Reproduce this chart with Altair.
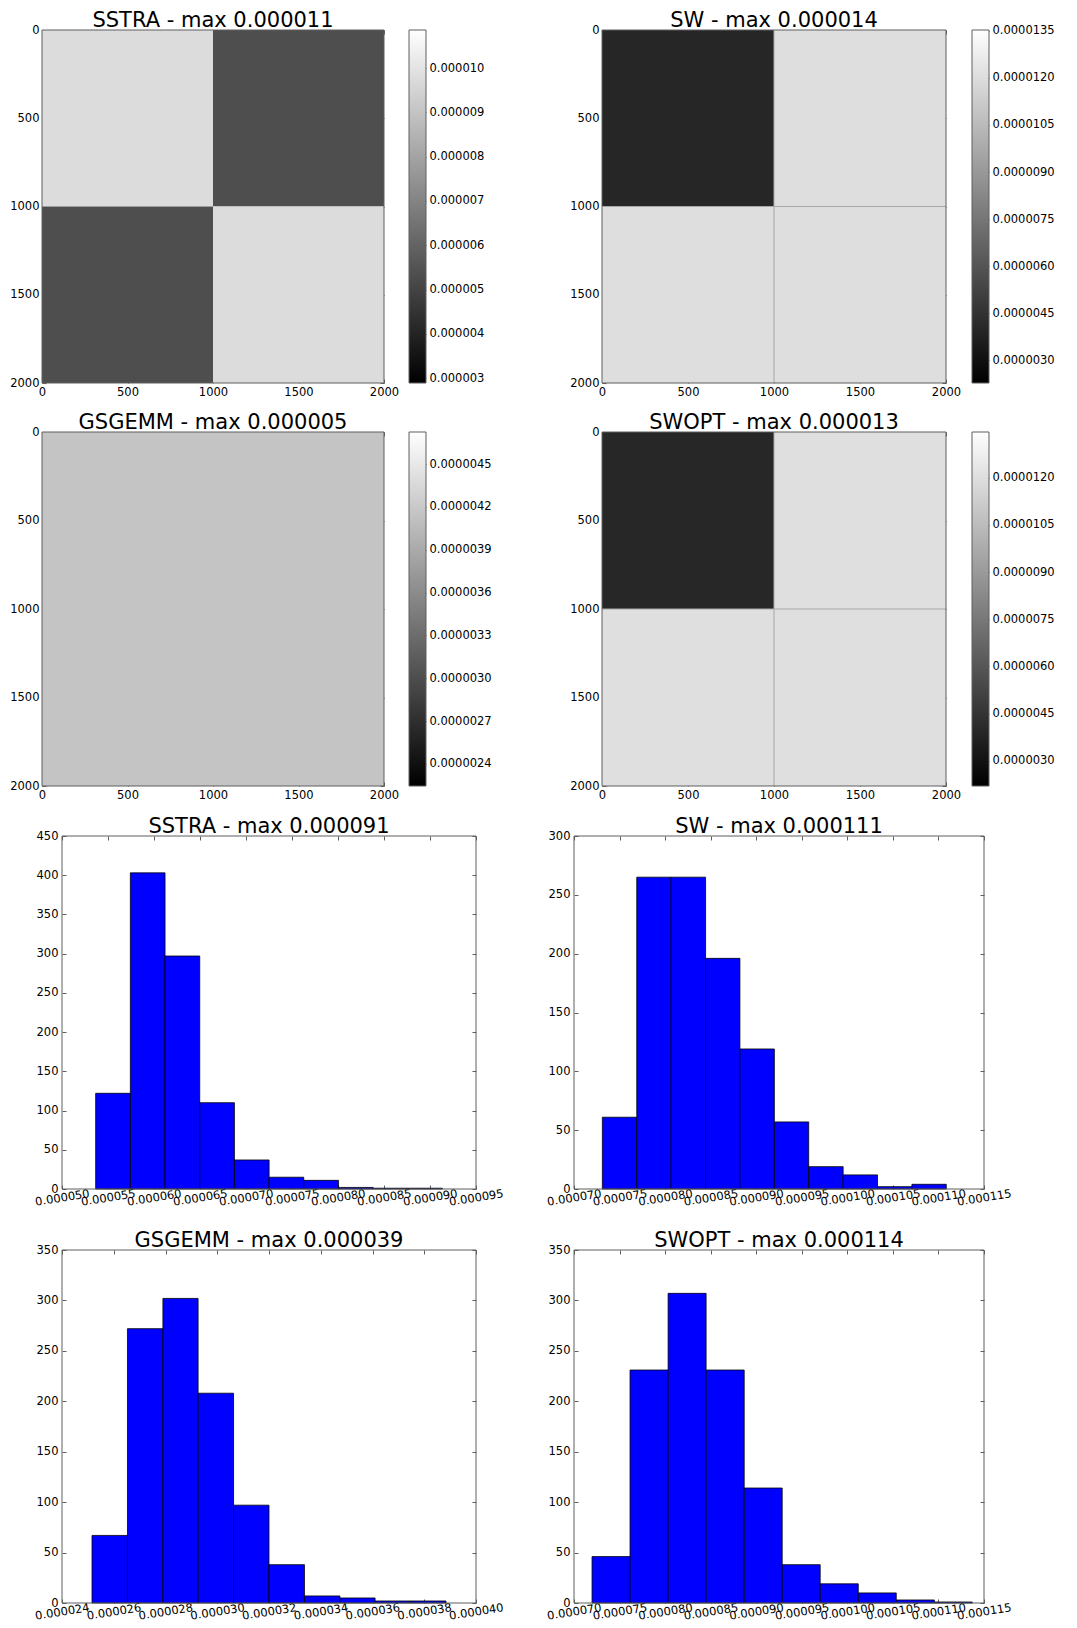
import altair as alt
import pandas as pd

FONT = "DejaVu Sans"
FRAME = "#5f5f5f"
BLUE = "#0000ff"

# ---------------- heat maps (values in units of 1e-6) ----------------
block_edges = [0, 1000, 2000]
heat_ticks = [0, 500, 1000, 1500, 2000]

sstra_blocks = [[9.77, 5.33], [5.33, 9.77]]          # rows top->bottom
sstra_cbar = [2.89, 10.86]
sstra_cbar_ticks = [3, 4, 5, 6, 7, 8, 9, 10]

sw_blocks = [[3.96, 12.07], [12.07, 12.07]]
sw_cbar = [2.27, 13.53]
sw_cbar_ticks = [3.0, 4.5, 6.0, 7.5, 9.0, 10.5, 12.0, 13.5]
sw_seam = 9.7

gsgemm_blocks = [[4.155, 4.155], [4.155, 4.155]]
gsgemm_cbar = [2.245, 4.725]
gsgemm_cbar_ticks = [2.4, 2.7, 3.0, 3.3, 3.6, 3.9, 4.2, 4.5]

swopt_blocks = [[3.9, 12.03], [12.03, 12.03]]
swopt_cbar = [2.2, 13.45]
swopt_cbar_ticks = [3.0, 4.5, 6.0, 7.5, 9.0, 10.5, 12.0]
swopt_seam = 9.6

seam_index = 1000
seam_half = 3

# ---------------- histograms (x in units of 1e-6) ----------------
sstra_edges = [53.66, 57.43, 61.20, 64.97, 68.74, 72.51, 76.28, 80.05, 83.82, 87.59, 91.36]
sstra_counts = [122, 403, 297, 110, 37, 15, 11, 2, 1, 1]
sstra_xticks = [50, 55, 60, 65, 70, 75, 80, 85, 90, 95]
sstra_yticks = [0, 50, 100, 150, 200, 250, 300, 350, 400, 450]

sw_edges = [73.11, 76.89, 80.66, 84.44, 88.21, 91.99, 95.76, 99.54, 103.31, 107.09, 110.86]
sw_counts = [61, 265, 265, 196, 119, 57, 19, 12, 2, 4]
sw_xticks = [70, 75, 80, 85, 90, 95, 100, 105, 110, 115]
sw_yticks = [0, 50, 100, 150, 200, 250, 300]

gsgemm_edges = [25.16, 26.53, 27.90, 29.26, 30.63, 32.00, 33.37, 34.74, 36.10, 37.47, 38.84]
gsgemm_counts = [67, 272, 302, 208, 97, 38, 7, 5, 2, 2]
gsgemm_xticks = [24, 26, 28, 30, 32, 34, 36, 38, 40]
gsgemm_yticks = [0, 50, 100, 150, 200, 250, 300, 350]

swopt_edges = [71.98, 76.15, 80.33, 84.50, 88.68, 92.85, 97.02, 101.20, 105.37, 109.55, 113.72]
swopt_counts = [46, 231, 307, 231, 114, 38, 19, 10, 3, 1]
swopt_xticks = [70, 75, 80, 85, 90, 95, 100, 105, 110, 115]
swopt_yticks = [0, 50, 100, 150, 200, 250, 300, 350]

# ---------------- layout (pixels, relative to the plotting origin) ----------------
W, H = 947, 1573
PAD = {"left": 42, "top": 30, "right": 88, "bottom": 25}
TITLE_GAP = 3
TICK = 4


def sc(domain, rng):
    return alt.Scale(domain=domain, range=rng, nice=False, zero=False)


def tick_axis(orient, offset, values):
    # inward-pointing matplotlib-style ticks, no labels
    return alt.Axis(orient=orient, offset=offset, values=values, labels=False,
                    ticks=True, tickSize=TICK, tickColor=FRAME, tickWidth=1,
                    domain=False, grid=False, title=None)


def heat_table(blocks, seam=None):
    rows = []
    for i, row in enumerate(blocks):
        for j, v in enumerate(row):
            rows.append(dict(x0=block_edges[j], x1=block_edges[j + 1],
                             y0=block_edges[i], y1=block_edges[i + 1], v=v))
    if seam is not None:
        rows.append(dict(x0=block_edges[0], x1=block_edges[-1],
                         y0=seam_index - seam_half, y1=seam_index + seam_half, v=seam))
        rows.append(dict(x0=seam_index - seam_half, x1=seam_index + seam_half,
                         y0=block_edges[0], y1=block_edges[-1], v=seam))
    return pd.DataFrame(rows)


def title_layer(text, center, xdom, xr, ytop):
    df = pd.DataFrame({"t": [text], "c": [center]})
    return alt.Chart(df).mark_text(font=FONT, fontSize=21, baseline="alphabetic",
                                   align="center", color="black").encode(
        x=alt.X("c:Q", scale=sc(xdom, xr), axis=None),
        y=alt.value(ytop - TITLE_GAP),
        text="t:N",
    )


def frame_layers(xdom, ydom, xr, yr, xticks, yticks):
    top, bottom = min(yr), max(yr)
    left, right = min(xr), max(xr)
    fdf = pd.DataFrame({"x0": [xdom[0]], "x1": [xdom[1]], "y0": [ydom[0]], "y1": [ydom[1]]})
    f1 = alt.Chart(fdf).mark_rect(fillOpacity=0, stroke=FRAME, strokeWidth=1).encode(
        x=alt.X("x0:Q", scale=sc(xdom, xr), axis=tick_axis("top", -bottom, xticks)),
        x2="x1:Q",
        y=alt.Y("y0:Q", scale=sc(ydom, yr), axis=tick_axis("right", left - W, yticks)),
        y2="y1:Q",
    )
    f2 = alt.Chart(fdf).mark_rect(fillOpacity=0, strokeOpacity=0).encode(
        x=alt.X("x0:Q", scale=sc(xdom, xr), axis=tick_axis("bottom", top - H, xticks)),
        x2="x1:Q",
        y=alt.Y("y0:Q", scale=sc(ydom, yr), axis=tick_axis("left", -right, yticks)),
        y2="y1:Q",
    )
    return [f1, f2]


def heat_panel(title, blocks, cbar, xr, yr, seam=None):
    dom = [block_edges[0], block_edges[-1]]
    cells = alt.Chart(heat_table(blocks, seam)).mark_rect().encode(
        x=alt.X("x0:Q", scale=sc(dom, xr),
                axis=alt.Axis(orient="bottom", offset=yr[1] - H, values=heat_ticks,
                              format="d", labelPadding=3, title=None)),
        x2="x1:Q",
        y=alt.Y("y0:Q", scale=sc(dom, yr),
                axis=alt.Axis(orient="left", offset=-xr[0], values=heat_ticks,
                              format="d", labelPadding=3, title=None)),
        y2="y1:Q",
        color=alt.Color("v:Q", scale=alt.Scale(domain=cbar, range=["black", "white"],
                                               interpolate="rgb"), legend=None),
    )
    return ([cells] + frame_layers(dom, dom, xr, yr, heat_ticks, heat_ticks)
            + [title_layer(title, (dom[0] + dom[1]) / 2, dom, xr, yr[0])])


def cbar_panel(cbar, ticks, fmt, xr, yr):
    df = pd.DataFrame({"lo": [cbar[0]], "hi": [cbar[1]], "a": [0], "b": [1]})
    grad = alt.Gradient(gradient="linear",
                        stops=[alt.GradientStop(color="black", offset=0),
                               alt.GradientStop(color="white", offset=1)],
                        x1=0, x2=0, y1=1, y2=0)
    ys = sc(cbar, [yr[1], yr[0]])
    bar = alt.Chart(df).mark_rect(fill=grad, stroke=FRAME, strokeWidth=1).encode(
        x=alt.X("a:Q", scale=sc([0, 1], xr), axis=None),
        x2="b:Q",
        y=alt.Y("lo:Q", scale=ys,
                axis=alt.Axis(orient="right", offset=xr[1] - W, values=ticks,
                              labelPadding=3, title=None,
                              labelExpr=f"format(datum.value * 1e-6, '{fmt}')")),
        y2="hi:Q",
    )
    inner = alt.Chart(df).mark_rect(fillOpacity=0, strokeOpacity=0).encode(
        x=alt.X("a:Q", scale=sc([0, 1], xr), axis=None),
        x2="b:Q",
        y=alt.Y("lo:Q", scale=ys, axis=tick_axis("left", -xr[1], ticks)),
        y2="hi:Q",
    )
    return [bar, inner]


def hist_panel(title, edges, counts, xticks, yticks, xr, yr):
    df = pd.DataFrame({"lo": edges[:-1], "hi": edges[1:], "n": counts})
    xdom = [xticks[0], xticks[-1]]
    ydom = [yticks[0], yticks[-1]]
    yrr = [yr[1], yr[0]]
    bars = alt.Chart(df).mark_rect(fill=BLUE, stroke="black", strokeWidth=0.8).encode(
        x=alt.X("lo:Q", scale=sc(xdom, xr),
                axis=alt.Axis(orient="bottom", offset=yr[1] - H, values=xticks,
                              labelAngle=351, labelAlign="center", labelBaseline="middle",
                              labelPadding=9, title=None,
                              labelExpr="format(datum.value * 1e-6, '.6f')")),
        x2="hi:Q",
        y=alt.Y("n:Q", scale=sc(ydom, yrr),
                axis=alt.Axis(orient="left", offset=-xr[0], values=yticks,
                              labelPadding=4, title=None)),
        y2=alt.datum(0),
    )
    return ([bars] + frame_layers(xdom, ydom, xr, yrr, xticks, yticks)
            + [title_layer(title, (xdom[0] + xdom[1]) / 2, xdom, xr, yr[0])])


# panel rectangles
HX1, CX1, HX2, CX2 = [0, 342], [367, 384], [560, 904], [930, 947]
R1, R2 = [0, 353], [402, 756]
GX1, GX2 = [20, 434], [532, 942]
R3, R4 = [806, 1159], [1220, 1573]

layers = (
    heat_panel("SSTRA - max 0.000011", sstra_blocks, sstra_cbar, HX1, R1)
    + cbar_panel(sstra_cbar, sstra_cbar_ticks, ".6f", CX1, R1)
    + heat_panel("SW - max 0.000014", sw_blocks, sw_cbar, HX2, R1, sw_seam)
    + cbar_panel(sw_cbar, sw_cbar_ticks, ".7f", CX2, R1)
    + heat_panel("GSGEMM - max 0.000005", gsgemm_blocks, gsgemm_cbar, HX1, R2)
    + cbar_panel(gsgemm_cbar, gsgemm_cbar_ticks, ".7f", CX1, R2)
    + heat_panel("SWOPT - max 0.000013", swopt_blocks, swopt_cbar, HX2, R2, swopt_seam)
    + cbar_panel(swopt_cbar, swopt_cbar_ticks, ".7f", CX2, R2)
    + hist_panel("SSTRA - max 0.000091", sstra_edges, sstra_counts, sstra_xticks, sstra_yticks, GX1, R3)
    + hist_panel("SW - max 0.000111", sw_edges, sw_counts, sw_xticks, sw_yticks, GX2, R3)
    + hist_panel("GSGEMM - max 0.000039", gsgemm_edges, gsgemm_counts, gsgemm_xticks, gsgemm_yticks, GX1, R4)
    + hist_panel("SWOPT - max 0.000114", swopt_edges, swopt_counts, swopt_xticks, swopt_yticks, GX2, R4)
)

chart = alt.layer(*layers).resolve_scale(
    x="independent", y="independent", color="independent"
).properties(
    width=W, height=H, padding=PAD, background="white",
    autosize=alt.AutoSizeParams(type="none"),
).configure_view(
    strokeWidth=0
).configure_axis(
    labelFont=FONT, labelFontSize=11.5, labelColor="black",
    domain=False, ticks=False, tickSize=0, grid=False,
    labelFlush=False, labelOverlap=False, labelBound=False,
)

chart.save("out.html", embed_options={"renderer": "svg", "actions": False})
